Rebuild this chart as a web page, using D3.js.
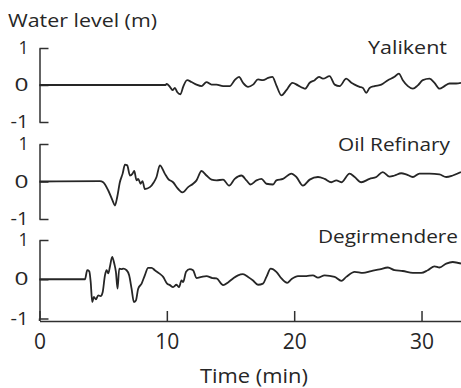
<!DOCTYPE html>
<html>
<head>
<meta charset="utf-8">
<script src="https://cdn.jsdelivr.net/npm/d3@7"></script>
<style>
  html, body { margin: 0; padding: 0; background: #fff; }
  svg { display: block; }
  text { font-family: "Open Sans", "Noto Sans", sans-serif; fill: #262626; }
</style>
</head>
<body>
<svg id="chart" width="461" height="388"></svg>
<script>
// ---------------- data (time in minutes, water level in metres) ----------------
const stationNames = ["Yalikent", "Oil Refinary", "Degirmendere"];

const yalikentTime  = [0, 9.9, 9.98, 10.24, 10.45, 10.63, 10.81, 11.07, 11.28, 11.59, 11.94, 12.33, 12.72, 13.11, 13.51, 13.9, 14.42, 14.94, 15.33, 15.67, 15.98, 16.38, 16.77, 17.16, 17.55, 17.95, 18.29, 18.6, 19.0, 19.39, 19.86, 20.3, 20.69, 20.86, 21.22, 21.61, 21.95, 22.26, 22.78, 23.18, 23.57, 24.09, 24.49, 24.75, 25.14, 25.4, 25.66, 25.92, 26.31, 26.84, 27.36, 27.88, 28.22, 28.53, 28.93, 29.32, 29.71, 30.1, 30.63, 31.02, 31.41, 31.8, 32.2, 32.72, 33.1];
const yalikentLevel = [0, 0, 0.03, -0.05, -0.14, -0.08, -0.19, -0.25, -0.05, 0.13, 0.08, 0.01, -0.03, 0.08, 0.01, 0.01, -0.03, -0.03, 0.13, 0.22, 0.06, -0.05, 0.01, 0.15, 0.13, 0.19, 0.22, -0.01, -0.28, -0.14, 0.06, -0.01, -0.08, -0.1, 0.06, 0.13, 0.22, 0.17, 0.24, 0.01, -0.03, 0.17, 0.06, 0.01, -0.05, -0.08, -0.21, -0.08, -0.03, 0.01, 0.13, 0.22, 0.31, 0.13, -0.03, -0.1, -0.01, 0.13, 0.17, 0.06, -0.1, -0.03, 0.04, 0.04, 0.06];

const refineryTime  = [0, 4.75, 5.0, 5.4, 5.74, 5.92, 6.1, 6.31, 6.53, 6.71, 6.89, 7.1, 7.31, 7.44, 7.62, 7.75, 7.94, 8.09, 8.27, 8.67, 8.98, 9.19, 9.45, 9.84, 10.1, 10.49, 10.89, 11.23, 11.67, 12.06, 12.33, 12.72, 13.11, 13.51, 13.9, 14.42, 14.89, 15.33, 15.86, 16.25, 16.56, 17.04, 17.43, 17.82, 18.34, 18.6, 19.12, 19.78, 20.17, 20.69, 21.22, 21.87, 22.39, 22.92, 23.31, 23.7, 24.35, 24.75, 25.27, 25.92, 26.45, 26.96, 27.49, 27.88, 28.41, 28.8, 29.32, 29.84, 30.63, 31.41, 31.94, 32.45, 33.1];
const refineryLevel = [0, 0.01, -0.02, -0.24, -0.51, -0.64, -0.42, -0.02, 0.21, 0.45, 0.43, 0.16, 0.21, 0.28, 0.03, 0.07, -0.06, 0.01, -0.2, -0.15, -0.02, 0.12, 0.43, 0.21, 0.07, -0.02, -0.2, -0.29, -0.15, -0.06, 0.03, 0.28, 0.16, 0.05, 0.03, 0.05, -0.11, 0.07, 0.16, 0.03, -0.08, 0.03, 0.07, -0.06, -0.08, 0.03, 0.07, 0.21, 0.12, -0.11, 0.05, 0.12, 0.07, -0.02, 0.03, -0.02, 0.21, 0.12, -0.02, 0.07, 0.12, 0.25, 0.13, 0.16, 0.22, 0.19, 0.12, 0.21, 0.21, 0.19, 0.12, 0.16, 0.25];

const degirmTime  = [0, 3.57, 3.75, 3.91, 4.02, 4.14, 4.27, 4.43, 4.61, 4.8, 4.96, 5.14, 5.27, 5.4, 5.53, 5.71, 5.87, 6.0, 6.13, 6.26, 6.45, 6.57, 6.84, 7.04, 7.23, 7.41, 7.57, 7.75, 8.02, 8.27, 8.53, 8.8, 9.06, 9.4, 9.71, 10.02, 10.24, 10.49, 10.76, 10.96, 11.15, 11.28, 11.51, 11.8, 12.06, 12.33, 12.72, 13.11, 13.58, 13.9, 14.42, 14.81, 15.2, 15.59, 15.98, 16.38, 16.77, 17.16, 17.55, 17.82, 18.16, 18.6, 19.0, 19.45, 19.78, 20.3, 20.96, 21.47, 21.87, 22.39, 23.18, 23.7, 24.09, 24.75, 25.4, 26.05, 26.71, 27.36, 27.88, 28.53, 29.32, 29.98, 30.49, 31.02, 31.41, 31.94, 32.45, 33.1];
const degirmLevel = [0, 0, 0.23, 0.2, -0.07, -0.58, -0.45, -0.51, -0.41, -0.43, -0.33, 0.1, 0.23, 0.15, 0.32, 0.57, 0.4, 0.19, -0.24, 0.27, 0.26, 0.27, 0.23, 0.1, -0.24, -0.58, -0.54, -0.24, -0.11, 0.1, 0.29, 0.29, 0.23, 0.15, 0.06, -0.11, -0.15, -0.2, -0.14, -0.2, -0.03, -0.07, 0.19, 0.26, 0.23, 0.03, 0.06, 0.08, 0.03, 0.02, -0.15, -0.08, 0.02, 0.1, 0.13, 0.06, -0.03, -0.14, -0.11, 0.06, 0.27, 0.19, 0.02, -0.09, 0.0, 0.08, 0.08, 0.1, 0.04, 0.1, 0.06, -0.04, 0.06, 0.19, 0.16, 0.21, 0.25, 0.3, 0.23, 0.21, 0.16, 0.16, 0.23, 0.33, 0.3, 0.4, 0.44, 0.4];

const yTickValues = [-1, 0, 1];
const xTickValues = [0, 10, 20, 30];
const yTitle = "Water level (m)";
const xTitle = "Time (min)";

// ---------------- layout ----------------
const svg = d3.select("#chart");
const ink = "#303030";

const x = d3.scaleLinear().domain([0, 33.1]).range([39.5, 461]);

const panels = [
  { name: stationNames[0], t: yalikentTime, v: yalikentLevel, top: 48,  bottom: 122,   labelX: 447, labelY: 54,  labelW: 79 },
  { name: stationNames[1], t: refineryTime, v: refineryLevel, top: 144, bottom: 219,   labelX: 450, labelY: 151, labelW: 112 },
  { name: stationNames[2], t: degirmTime,   v: degirmLevel,   top: 240, bottom: 318.5, labelX: 458, labelY: 243, labelW: 140 }
];

panels.forEach((p, i) => {
  const y = d3.scaleLinear().domain([-1, 1]).range([p.bottom, p.top]);
  const axis = d3.axisLeft(y)
    .tickValues(yTickValues)
    .tickSizeInner(-9)
    .tickSizeOuter(0)
    .tickPadding(11)
    .tickFormat(d => String(d));
  const g = svg.append("g").attr("transform", `translate(${x(0)},0)`).call(axis);
  g.select(".domain").attr("stroke", ink).attr("stroke-width", 1.5);
  g.selectAll(".tick line").attr("stroke", ink).attr("stroke-width", 1.5);
  g.selectAll(".tick text")
    .attr("font-family", '"Open Sans", sans-serif')
    .attr("font-size", 17.5)
    .attr("fill", "#262626")
    .each(function(d) {
      const el = d3.select(this);
      if (d === 0) el.attr("textLength", 14).attr("lengthAdjust", "spacingAndGlyphs");
      if (d === -1) el.attr("textLength", 18).attr("lengthAdjust", "spacingAndGlyphs");
    });

  const data = p.t.map((t, k) => [t, p.v[k]]);
  const line = d3.line().curve(d3.curveMonotoneX).x(d => x(d[0])).y(d => y(d[1]));
  svg.append("path")
    .datum(data)
    .attr("d", line)
    .attr("fill", "none")
    .attr("stroke", "#262626")
    .attr("stroke-width", 1.8)
    .attr("stroke-linejoin", "round");

  svg.append("text")
    .attr("x", p.labelX)
    .attr("y", p.labelY)
    .attr("text-anchor", "end")
    .attr("font-size", 18.5)
    .attr("textLength", p.labelW)
    .attr("lengthAdjust", "spacingAndGlyphs")
    .text(p.name);
});

// connector between last panel's axis and x axis
svg.append("line")
  .attr("x1", x(0)).attr("x2", x(0))
  .attr("y1", panels[2].bottom).attr("y2", 321)
  .attr("stroke", ink).attr("stroke-width", 1.5);

// x axis
const xAxis = d3.axisBottom(x)
  .tickValues(xTickValues)
  .tickSizeInner(-10)
  .tickSizeOuter(0)
  .tickPadding(13)
  .tickFormat(d => String(d));
const gx = svg.append("g").attr("transform", "translate(0,321)").call(xAxis);
gx.select(".domain").attr("stroke", ink).attr("stroke-width", 1.5);
gx.selectAll(".tick line").attr("stroke", ink).attr("stroke-width", 1.5);
gx.selectAll(".tick text")
  .attr("font-family", '"Open Sans", sans-serif')
  .attr("font-size", 21)
  .attr("fill", "#262626");

// titles
svg.append("text")
  .attr("x", 8).attr("y", 27)
  .attr("font-size", 17.5)
  .attr("textLength", 149)
  .attr("lengthAdjust", "spacingAndGlyphs")
  .text(yTitle);

svg.append("text")
  .attr("x", 254).attr("y", 383)
  .attr("text-anchor", "middle")
  .attr("font-size", 20)
  .attr("textLength", 108)
  .attr("lengthAdjust", "spacingAndGlyphs")
  .text(xTitle);
</script>
</body>
</html>
